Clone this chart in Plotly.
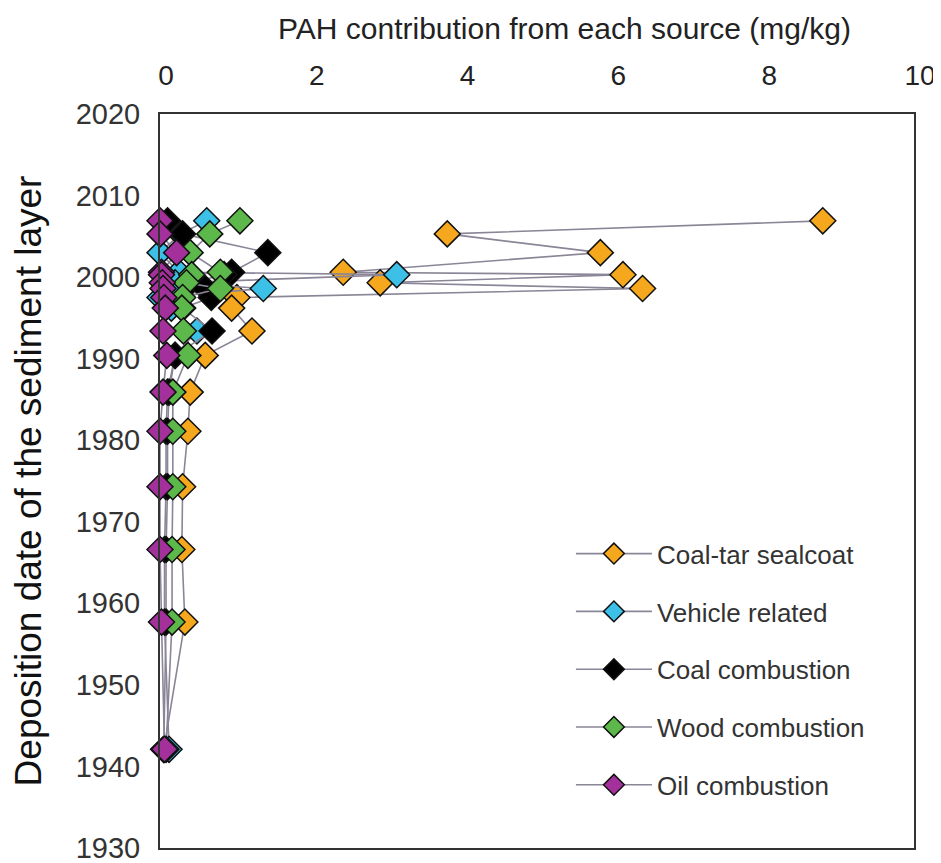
import plotly.graph_objects as go

# Deposition dates of the sediment layers (years)
years = [2006.9, 2005.3, 2003.0, 2000.6, 2000.3, 1999.3, 1998.6, 1997.5, 1996.2,
         1993.4, 1990.4, 1985.9, 1981.1, 1974.3, 1966.6, 1957.7, 1942.1]

# PAH contribution from each source (mg/kg)
coal_tar = [8.79, 3.81, 5.84, 2.43, 6.14, 2.92, 6.40, 1.02, 0.95,
            1.22, 0.60, 0.40, 0.37, 0.30, 0.29, 0.33, 0.05]
vehicle = [0.62, 0.27, 0.00, 0.25, 3.14, 0.20, 1.37, 0.00, 0.15,
           0.49, 0.20, 0.10, 0.08, 0.08, 0.06, 0.06, 0.12]
coal_comb = [0.10, 0.30, 1.43, 0.95, 0.85, 0.40, 0.60, 0.68, 0.30,
             0.69, 0.20, 0.12, 0.10, 0.10, 0.08, 0.08, 0.05]
wood_comb = [1.06, 0.66, 0.40, 0.80, 0.42, 0.35, 0.80, 0.30, 0.29,
             0.31, 0.37, 0.17, 0.17, 0.17, 0.16, 0.16, 0.08]
oil_comb = [0.00, 0.00, 0.22, 0.02, 0.02, 0.03, 0.04, 0.05, 0.07,
            0.04, 0.09, 0.04, 0.00, 0.00, 0.00, 0.02, 0.06]

series_names = ["Coal-tar sealcoat", "Vehicle related", "Coal combustion",
                "Wood combustion", "Oil combustion"]
series_values = [coal_tar, vehicle, coal_comb, wood_comb, oil_comb]
series_colors = ["#F5A81E", "#3CC0E8", "#000000", "#5DB84B", "#A3309B"]

x_ticks = [0, 2, 4, 6, 8, 10]
y_ticks = [1930, 1940, 1950, 1960, 1970, 1980, 1990, 2000, 2010, 2020]
x_title = "PAH contribution from each source (mg/kg)"
y_title = "Deposition date of the sediment layer"

fig = go.Figure()
for i, (name, vals, col) in enumerate(zip(series_names, series_values, series_colors)):
    fig.add_trace(go.Scatter(
        x=vals, y=years, name=name, mode="lines+markers",
        line=dict(color="#8a8597", width=1.6),
        marker=dict(symbol="diamond", size=20, color=col,
                    line=dict(color="#111111", width=1.5)),
        cliponaxis=False, legendgroup=f"g{i}",
    ))

font_main = "Liberation Sans Narrow, Arial Narrow, Liberation Sans, Arial, sans-serif"
# the page body has an 8px margin, so the figure is sized to fit inside the window
fig.update_layout(
    width=933, height=855,
    margin=dict(l=152, r=27, t=106, b=15),
    paper_bgcolor="white", plot_bgcolor="white",
    font=dict(family="Liberation Sans, Arial, sans-serif", size=20, color="#222222"),
    showlegend=True,
    legend=dict(x=0.545, y=0.433, xanchor="left", yanchor="top",
                bgcolor="rgba(0,0,0,0)", font=dict(size=26, color="#333333"),
                tracegroupgap=21, traceorder="grouped", itemwidth=76),
    xaxis=dict(range=[0, 10], side="top", tickvals=x_ticks, ticks="",
               showgrid=False, zeroline=False, showline=True, mirror=True,
               linecolor="#333333", linewidth=2, automargin=False,
               ticklabelshift=6, ticklabelstandoff=16, ticklabeloverflow="allow",
               tickfont=dict(size=28, family=font_main, color="#222222")),
    yaxis=dict(range=[1930, 2020], tickvals=y_ticks, ticks="",
               showgrid=False, zeroline=False, showline=True, mirror=True,
               linecolor="#333333", linewidth=2, automargin=False,
               ticklabelstandoff=12, ticklabeloverflow="allow",
               tickfont=dict(size=29, color="#333333"),
               title=dict(text=y_title,
                          font=dict(size=37, family=font_main, color="#111111"),
                          standoff=30)),
    annotations=[dict(text=x_title, xref="paper", yref="paper",
                      x=0.537, y=1.117, xanchor="center", yanchor="middle",
                      showarrow=False,
                      font=dict(size=30, family=font_main, color="#222222"))],
)

fig.write_html("out.html")
